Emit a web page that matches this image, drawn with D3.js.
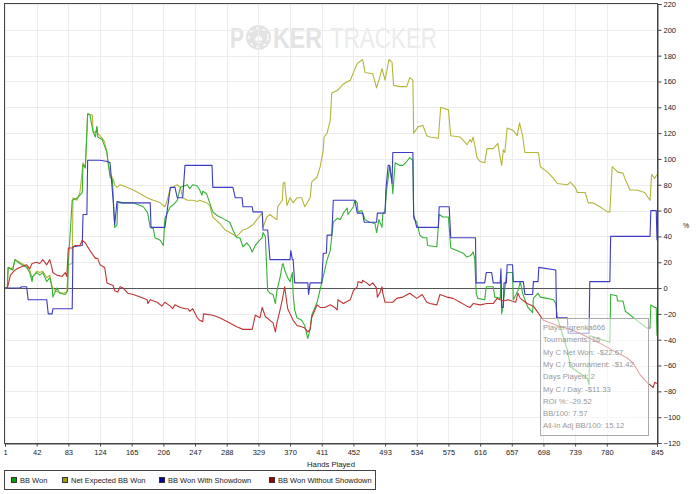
<!DOCTYPE html>
<html>
<head>
<meta charset="utf-8">
<script src="https://cdn.jsdelivr.net/npm/d3@7"></script>
<style>
  body { margin: 0; background: #fff; }
  svg { display: block; }
  text { font-family: "Liberation Sans", Arial, sans-serif; }
</style>
</head>
<body>
<div id="chart"></div>
<script>
// hands on the x axis, BB on the right y axis
const xTickValues = [1, 42, 83, 124, 165, 206, 247, 288, 329, 370, 411, 452, 493, 534, 575, 616, 657, 698, 739, 780, 845];
const yTickValues = d3.range(-120, 221, 20);

const seriesNames = ["BB Won", "Net Expected BB Won", "BB Won With Showdown", "BB Won Without Showdown"];

// [hand, bb]
const bbWon = [[1,0],[4,0],[5,16],[11,14],[14,22],[20,19],[29,16],[33,12],[36,5],[37,9],[42,12],[46,10],[50,12],[55,5],[59,8],[62,0],[63,-7],[68,0],[72,-4],[79,-5],[82,-2],[83,20],[88,68],[95,70],[101,74],[102,96],[105,93],[108,135],[111,134],[115,121],[118,117],[120,125],[121,117],[127,115],[128,113],[133,105],[134,99],[137,86],[140,84],[143,47],[146,49],[147,67],[154,66],[167,66],[180,63],[185,59],[186,57],[189,47],[193,46],[195,39],[202,37],[206,33],[208,54],[215,63],[218,64],[224,68],[228,78],[237,80],[240,77],[244,80],[250,79],[253,76],[256,72],[257,75],[262,73],[270,59],[276,56],[286,53],[292,51],[296,45],[301,39],[305,39],[309,32],[314,35],[318,32],[321,28],[325,33],[329,36],[334,39],[335,43],[338,40],[341,-2],[344,-4],[348,-5],[351,-12],[353,-2],[357,8],[360,18],[361,19],[363,14],[367,8],[370,5],[373,12],[374,-5],[376,-17],[379,-23],[385,-25],[389,-29],[393,-39],[396,-32],[398,-21],[405,-11],[411,4],[413,9],[418,22],[422,29],[424,40],[426,51],[431,54],[435,53],[439,58],[444,62],[445,57],[452,63],[454,68],[457,66],[458,59],[463,60],[467,53],[473,51],[480,50],[482,43],[485,53],[489,47],[490,57],[493,60],[495,76],[499,94],[502,82],[503,73],[506,97],[512,95],[516,95],[521,98],[525,101],[529,99],[530,54],[534,51],[538,41],[542,39],[547,39],[548,33],[560,32],[563,57],[568,55],[575,55],[578,31],[586,29],[594,27],[599,24],[603,25],[605,26],[607,28],[609,23],[611,-4],[613,-8],[622,-9],[624,1],[633,1],[635,-7],[642,-8],[643,6],[644,-20],[646,-12],[650,10],[651,12],[658,12],[659,-9],[665,-2],[668,5],[671,-4],[674,-9],[678,-15],[684,-19],[685,-8],[691,-4],[694,-7],[703,-8],[711,-9],[714,-12],[716,-23],[729,-48],[733,-61],[745,-66],[755,-70],[757,-75],[758,-37],[784,-42],[785,-5],[793,-6],[794,-10],[801,-10],[804,-18],[819,-25],[832,-31],[836,-31],[837,-13],[842,-15],[844,-15],[845,-37]];

const netExpected = [[1,0],[4,0],[5,16],[11,15],[14,22],[20,20],[29,17],[33,14],[36,8],[42,13],[46,12],[50,13],[55,8],[59,10],[62,1],[66,-2],[70,-3],[76,-4],[81,-3],[83,18],[88,19],[89,70],[94,68],[98,74],[102,97],[105,93],[108,135],[114,134],[115,122],[118,120],[120,125],[121,120],[127,116],[130,113],[133,105],[134,99],[137,89],[141,84],[143,80],[146,78],[150,80],[159,78],[167,76],[176,73],[185,70],[193,68],[202,66],[208,63],[211,68],[215,77],[218,78],[224,80],[228,78],[231,70],[237,68],[244,68],[250,67],[253,68],[262,66],[266,64],[270,55],[279,50],[286,45],[292,43],[301,40],[309,45],[314,46],[322,49],[327,53],[334,58],[335,47],[340,55],[344,57],[348,55],[353,53],[354,63],[360,68],[361,81],[363,82],[366,64],[370,70],[374,66],[379,70],[385,70],[389,63],[396,70],[398,82],[405,86],[409,94],[413,107],[414,117],[418,120],[422,130],[424,151],[431,153],[439,158],[448,161],[457,174],[464,177],[467,167],[477,166],[482,155],[486,163],[489,170],[493,161],[498,177],[502,175],[504,157],[512,156],[521,156],[525,163],[529,161],[530,120],[536,125],[542,126],[547,118],[551,117],[562,116],[565,140],[575,138],[578,118],[590,117],[599,111],[603,115],[605,113],[607,117],[609,111],[612,101],[616,98],[622,97],[625,108],[633,108],[639,112],[642,101],[644,95],[646,107],[648,105],[651,124],[659,122],[664,118],[667,128],[671,118],[674,105],[691,105],[692,103],[694,94],[703,90],[711,85],[716,81],[729,80],[733,82],[739,78],[742,74],[752,74],[756,66],[762,66],[771,63],[781,59],[784,59],[787,94],[794,90],[801,89],[804,84],[810,76],[819,76],[829,74],[836,68],[838,88],[842,85],[845,88]];

const withShowdown = [[1,0],[20,0],[23,1],[29,1],[31,-9],[55,-9],[57,-20],[62,-20],[63,-16],[88,-16],[89,32],[101,33],[102,57],[107,57],[108,99],[124,99],[134,98],[137,97],[141,68],[143,49],[146,67],[150,66],[189,66],[190,47],[208,47],[215,78],[221,78],[224,70],[231,70],[234,95],[269,95],[270,78],[296,78],[299,70],[308,70],[309,63],[321,63],[322,59],[334,59],[335,45],[341,45],[344,22],[370,22],[371,29],[373,22],[374,22],[376,4],[393,4],[394,-5],[396,4],[411,4],[413,27],[417,27],[418,41],[424,41],[426,68],[454,68],[457,58],[464,58],[466,51],[482,51],[483,58],[493,58],[494,76],[497,95],[499,95],[502,81],[503,105],[529,105],[530,57],[534,47],[562,47],[563,63],[576,63],[578,39],[610,39],[611,4],[622,4],[624,12],[631,12],[633,4],[642,4],[643,15],[644,-15],[646,-15],[647,4],[650,4],[651,18],[658,18],[659,5],[672,5],[674,-5],[684,-5],[685,5],[691,5],[692,16],[714,14],[715,-23],[729,-23],[730,-35],[757,-35],[758,5],[784,5],[785,40],[836,40],[837,60],[844,60],[845,37]];

const withoutShowdown = [[1,0],[4,0],[8,10],[14,14],[20,16],[29,18],[33,15],[36,19],[42,20],[46,19],[50,22],[55,18],[59,22],[62,15],[63,12],[68,10],[75,9],[79,12],[81,9],[83,31],[88,31],[92,33],[98,33],[101,37],[105,35],[107,33],[111,29],[118,23],[121,23],[124,18],[130,16],[133,4],[141,2],[143,-2],[147,-3],[150,1],[154,0],[160,-4],[167,-5],[176,-7],[185,-9],[186,-12],[189,-9],[198,-11],[204,-14],[208,-11],[215,-14],[218,-16],[221,-13],[228,-15],[234,-16],[238,-16],[240,-18],[244,-16],[250,-23],[253,-25],[257,-26],[258,-20],[270,-21],[279,-23],[292,-27],[301,-30],[309,-32],[321,-32],[325,-21],[331,-23],[334,-15],[338,-22],[344,-25],[348,-27],[351,-34],[353,-27],[357,-17],[360,-9],[363,1],[366,-12],[367,-16],[370,-20],[374,-25],[379,-29],[385,-30],[389,-31],[393,-34],[396,-32],[398,-23],[405,-13],[409,-15],[415,-15],[422,-13],[428,-15],[431,-17],[432,-9],[439,-12],[448,-9],[452,-2],[457,1],[458,5],[463,4],[464,6],[469,4],[473,2],[477,4],[482,0],[483,-7],[486,-4],[489,1],[490,-4],[493,-11],[503,-11],[508,-8],[516,-7],[525,-4],[534,-8],[541,-5],[547,-11],[551,-12],[560,-13],[564,-5],[573,-7],[581,-8],[590,-11],[599,-14],[603,-15],[607,-12],[616,-13],[625,-12],[633,-12],[638,-8],[646,-10],[652,-9],[662,-11],[665,-4],[668,-8],[677,-12],[685,-14],[691,-19],[698,-25],[716,-29],[733,-32],[745,-35],[762,-40],[775,-44],[793,-50],[806,-54],[814,-58],[823,-67],[832,-73],[840,-77],[842,-73],[845,-74]];

const statLines = [
  "Player: grenka666",
  "Tournaments: 16",
  "My C Net Won: -$22.67",
  "My C / Tournament: -$1.42",
  "Days Played: 2",
  "My C / Day: -$11.33",
  "ROI %: -29.52",
  "BB/100: 7.57",
  "All-In Adj BB/100: 15.12"
];

const W = 700, H = 494;
const plot = { left: 5, right: 657, top: 4, bottom: 443 };

const svg = d3.select("#chart").append("svg")
  .attr("width", W).attr("height", H);

svg.append("rect").attr("width", W).attr("height", H).attr("fill", "#fff");

const x = d3.scaleLinear().domain([1, 845]).range([plot.left, plot.right]);
const y = d3.scaleLinear().domain([-120, 220]).range([plot.bottom, plot.top]);

// watermark, the O is a chip
const wm = svg.append("g").attr("fill", "#e3e3e3");
wm.append("text").attr("x", 230).attr("y", 48).attr("font-size", 29).attr("font-weight", "bold")
  .attr("textLength", 14).attr("lengthAdjust", "spacingAndGlyphs").text("P");
wm.append("circle").attr("cx", 258.5).attr("cy", 37.5).attr("r", 12.5);
wm.append("circle").attr("cx", 258.5).attr("cy", 37.5).attr("r", 9.5)
  .attr("fill", "none").attr("stroke", "#fff").attr("stroke-width", 1.5).attr("stroke-dasharray", "3 4");
wm.append("text").attr("x", 258.5).attr("y", 43).attr("text-anchor", "middle")
  .attr("font-size", 15).attr("fill", "#fff").attr("font-family", "DejaVu Sans").text("\u2660");
wm.append("text").attr("x", 273).attr("y", 48).attr("font-size", 29).attr("font-weight", "bold")
  .attr("textLength", 49).attr("lengthAdjust", "spacingAndGlyphs").text("KER");
wm.append("text").attr("x", 330).attr("y", 48).attr("font-size", 29).attr("fill", "#ebebeb")
  .attr("textLength", 107).attr("lengthAdjust", "spacingAndGlyphs").text("TRACKER");

// grid
const grid = svg.append("g").attr("stroke", "#ececec").attr("stroke-width", 1);
grid.selectAll("line.v").data(xTickValues).join("line")
  .attr("x1", d => Math.round(x(d)) + 0.5).attr("x2", d => Math.round(x(d)) + 0.5)
  .attr("y1", plot.top).attr("y2", plot.bottom);
grid.selectAll("line.h").data(yTickValues).join("line")
  .attr("x1", plot.left).attr("x2", plot.right)
  .attr("y1", d => Math.round(y(d)) + 0.5).attr("y2", d => Math.round(y(d)) + 0.5);

// zero line
svg.append("line")
  .attr("x1", plot.left).attr("x2", plot.right)
  .attr("y1", Math.round(y(0)) + 0.5).attr("y2", Math.round(y(0)) + 0.5)
  .attr("stroke", "#555").attr("stroke-width", 1);

// lines
svg.append("clipPath").attr("id", "clip").append("rect")
  .attr("x", plot.left).attr("y", plot.top)
  .attr("width", plot.right - plot.left).attr("height", plot.bottom - plot.top);

const line = d3.line().x(d => x(d[0])).y(d => y(d[1]));
const lines = [
  { data: netExpected, color: "#b5b53c" },
  { data: bbWon, color: "#36b036" },
  { data: withShowdown, color: "#3c3cc2" },
  { data: withoutShowdown, color: "#bf3535" }
];
svg.append("g").attr("clip-path", "url(#clip)")
  .selectAll("path").data(lines).join("path")
  .attr("fill", "none")
  .attr("stroke", d => d.color)
  .attr("stroke-width", 1.1)
  .attr("stroke-linejoin", "round")
  .attr("d", d => line(d.data));

// frame
svg.append("rect")
  .attr("x", plot.left - 0.5).attr("y", plot.top - 0.5)
  .attr("width", plot.right - plot.left + 1).attr("height", plot.bottom - plot.top + 1)
  .attr("fill", "none").attr("stroke", "#444");

// right axis
const yAxis = svg.append("g")
  .attr("transform", `translate(${plot.right + 0.5},0)`)
  .call(d3.axisRight(y).tickValues(yTickValues).tickSize(4).tickPadding(2));
yAxis.select(".domain").attr("stroke", "#444");
yAxis.selectAll(".tick line").attr("stroke", "#444");
yAxis.selectAll("text").attr("font-size", 7.5).attr("fill", "#222")
  .attr("font-family", "'Liberation Sans', Arial, sans-serif");

// bottom axis
const xAxis = svg.append("g")
  .attr("transform", `translate(0,${plot.bottom + 0.5})`)
  .call(d3.axisBottom(x).tickValues(xTickValues).tickSize(3).tickPadding(3));
xAxis.select(".domain").attr("stroke", "#444");
xAxis.selectAll(".tick line").attr("stroke", "#444");
xAxis.selectAll("text").attr("font-size", 7.5).attr("fill", "#222")
  .attr("font-family", "'Liberation Sans', Arial, sans-serif");

svg.append("text").attr("x", 331).attr("y", 467).attr("text-anchor", "middle")
  .attr("font-size", 7.7).attr("fill", "#222").text("Hands Played");

svg.append("text").attr("x", 686).attr("y", 228).attr("text-anchor", "middle")
  .attr("font-size", 7).attr("fill", "#222").text("%");

// stats box
const box = svg.append("g").attr("transform", "translate(540,318)");
box.append("rect").attr("x", 0.5).attr("y", 0.5).attr("width", 108).attr("height", 117)
  .attr("fill", "#fff").attr("fill-opacity", 0.55).attr("stroke", "#aaa");
box.selectAll("text").data(statLines).join("text")
  .attr("x", 3).attr("y", (d, i) => 12 + i * 12.3)
  .attr("font-size", 7.7).attr("fill", "#999")
  .text(d => d);

// legend
const legend = svg.append("g");
legend.append("rect").attr("x", 4.5).attr("y", 470.5).attr("width", 371).attr("height", 19)
  .attr("fill", "#fff").attr("stroke", "#444");
const legendColors = ["#00a000", "#a0a000", "#0000a0", "#a00000"];
const legendX = [11, 62, 159, 269];
const items = legend.selectAll("g.item").data(seriesNames).join("g")
  .attr("transform", (d, i) => `translate(${legendX[i]},477)`);
items.append("rect").attr("x", 0.5).attr("y", 0.5).attr("width", 5).attr("height", 5)
  .attr("fill", (d, i) => legendColors[i]).attr("stroke", "#333");
items.append("text").attr("x", 9).attr("y", 6).attr("font-size", 7.5).attr("fill", "#222")
  .text(d => d);
</script>
</body>
</html>
